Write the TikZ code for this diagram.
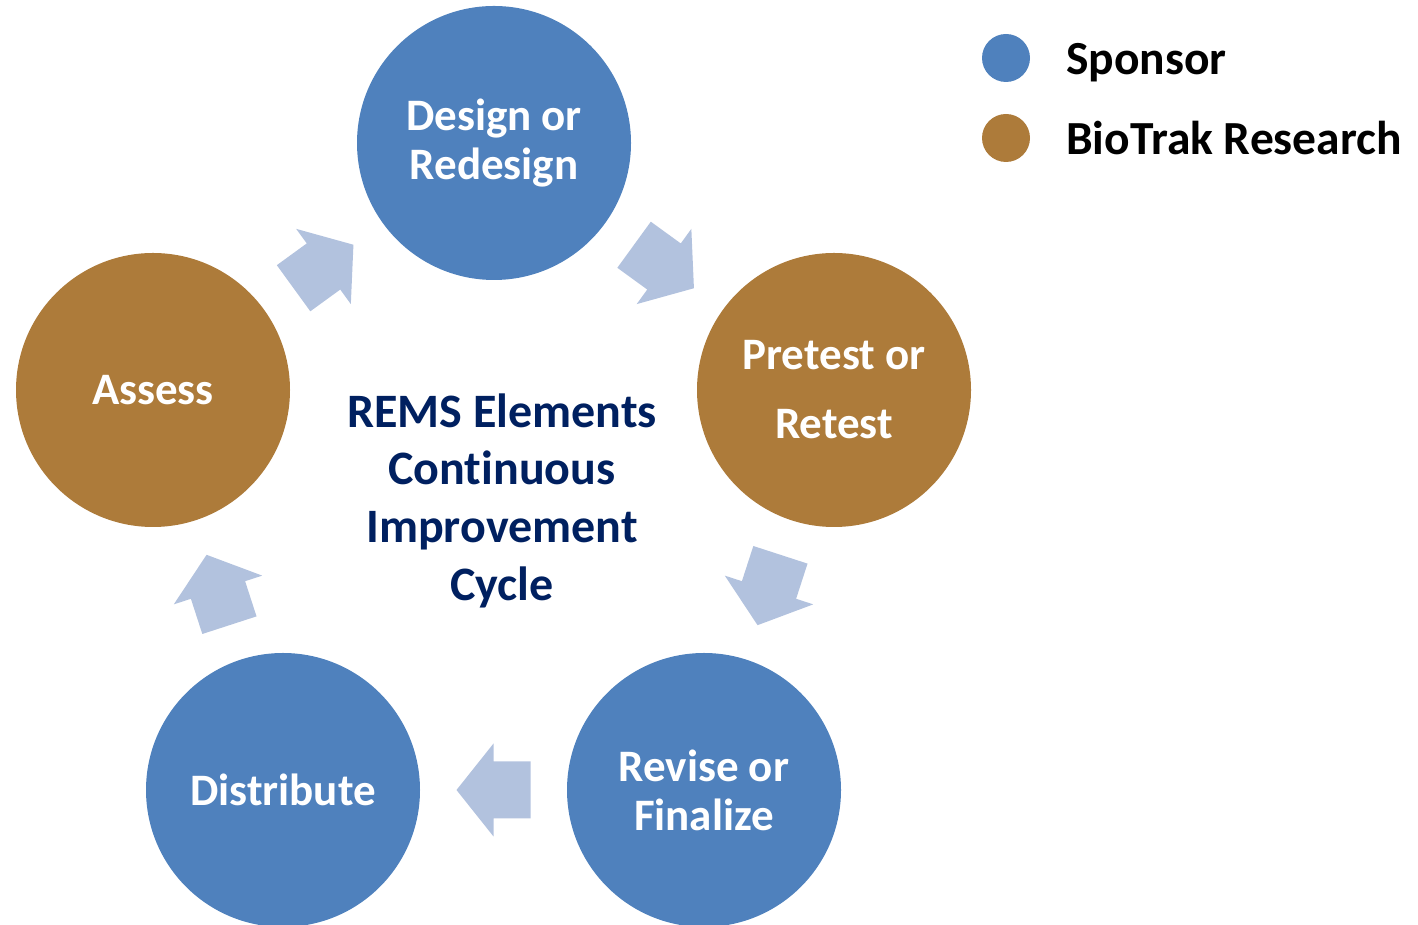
\documentclass[tikz,border=0pt]{standalone}
\usepackage{fontspec}
\setmainfont{Carlito}[Ligatures=NoCommon]
\usetikzlibrary{calc}
\definecolor{sponsorblue}{HTML}{4F81BD}
\definecolor{biotrakbrown}{HTML}{AD7B3A}
\definecolor{flowarrow}{HTML}{B2C2DE}
\definecolor{titlenavy}{HTML}{002060}
\tikzset{
  stage/.style={circle, minimum size=274pt, inner sep=0pt, text=white,
    font=\bfseries\fontsize{45}{49}\selectfont, align=center},
  sponsorstage/.style={stage, fill=sponsorblue},
  biotrakstage/.style={stage, fill=biotrakbrown},
  legenddot/.style={circle, minimum size=48pt, inner sep=0pt},
  legendtext/.style={anchor=base west, inner sep=0pt, text=black,
    font=\bfseries\fontsize{47.5}{50}\selectfont},
  pics/flowarrow/.style={code={
    \fill[flowarrow] (37,0) -- (0,46.5) -- (0,28.5) -- (-37,28.5)
      -- (-37,-28.5) -- (0,-28.5) -- (0,-46.5) -- cycle;
  }}
}
\begin{document}
\begin{tikzpicture}[x=1pt, y=1pt]
  \useasboundingbox (0,0) rectangle (1418,925);

  % stages of the cycle
  \node[sponsorstage] (design) at (494,782) {Design or\\Redesign};
  \node[biotrakstage] (pretest) at (834,535) {Pretest or\\[20pt]Retest};
  \node[sponsorstage] (revise) at (704,135) {Revise or\\Finalize};
  \node[sponsorstage] (distribute) at (283,135) {Distribute};
  \node[biotrakstage] (assess) at (153,535) {Assess};

  % block arrows between consecutive stages
  \pic[rotate=-36] at ($(design)!0.5!(pretest)$) {flowarrow};
  \pic[rotate=-108] at ($(pretest)!0.5!(revise)$) {flowarrow};
  \pic[rotate=180] at ($(revise)!0.5!(distribute)$) {flowarrow};
  \pic[rotate=108] at ($(distribute)!0.5!(assess)$) {flowarrow};
  \pic[rotate=36] at ($(assess)!0.5!(design)$) {flowarrow};

  % title in the middle of the cycle
  \node[text=titlenavy, align=center, inner sep=0pt,
    font=\bfseries\fontsize{48}{57.7}\selectfont] (title) at (502,424.5)
    {REMS Elements\\Continuous\\Improvement\\Cycle};

  % legend
  \node[legenddot, fill=sponsorblue] (sponsordot) at (1006,867) {};
  \node[legenddot, fill=biotrakbrown] (biotrakdot) at (1006,787) {};
  \node[legendtext] (sponsorlabel) at (1066,850) {Sponsor};
  \node[legendtext] (biotraklabel) at (1066,770) {BioTrak Research};
\end{tikzpicture}
\end{document}
